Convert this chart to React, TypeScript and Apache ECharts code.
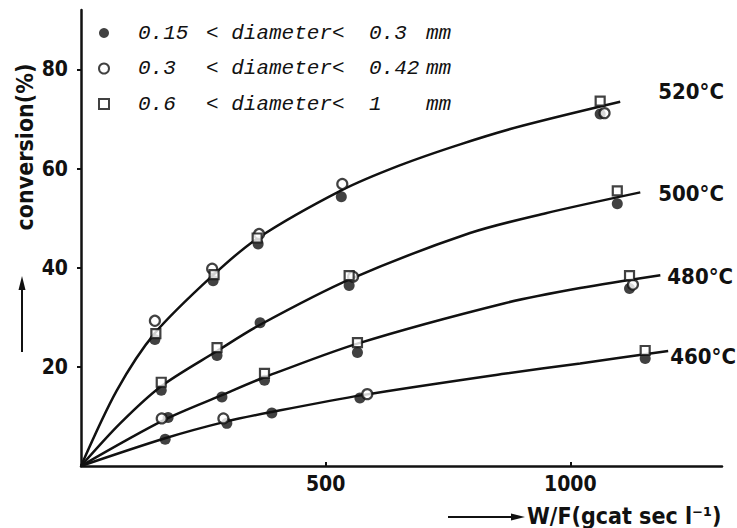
import React, { useEffect, useRef } from "react";
import * as echarts from "echarts";

// ---- data ----
const xTickValues = [500, 1000];
const yTickValues = [20, 40, 60, 80];

const tempLabels = ["520°C", "500°C", "480°C", "460°C"];

// fitted curves
const curve520 = [[0, 0], [73, 15.2], [151, 26.8], [270, 38.5], [362, 46.0], [532, 55.6], [650, 60.6], [775, 64.9], [900, 68.6], [1102, 73.5]];
const curve500 = [[0, 0], [80, 8.6], [164, 16.1], [278, 23.2], [366, 28.5], [548, 37.6], [795, 47.0], [950, 51.0], [1143, 55.2]];
const curve480 = [[0, 0], [170, 9.3], [288, 14.3], [375, 17.9], [565, 24.7], [864, 32.8], [1020, 35.9], [1184, 38.5]];
const curve460 = [[0, 0], [172, 5.6], [298, 9.0], [390, 10.9], [575, 14.3], [864, 18.6], [1020, 20.7], [1200, 23.2]];

// measured points per particle size
const filledPts = [
  [151, 25.5], [270, 37.4], [362, 44.8], [532, 54.3], [1061, 71.0],
  [164, 15.3], [278, 22.3], [366, 28.9], [548, 36.4], [1096, 52.9],
  [178, 9.8], [288, 13.9], [375, 17.3], [565, 22.9], [1121, 35.8],
  [172, 5.4], [298, 8.6], [390, 10.7], [570, 13.7], [1153, 21.7],
];
const openPts = [
  [151, 29.3], [268, 39.8], [364, 46.8], [534, 56.9], [1070, 71.2],
  [556, 38.2],
  [165, 9.6], [1128, 36.6],
  [291, 9.6], [585, 14.5],
];
const squarePts = [
  [153, 26.7], [272, 38.6], [360, 46.0], [1061, 73.6],
  [164, 16.9], [278, 23.9], [548, 38.4], [1096, 55.5],
  [375, 18.7], [565, 24.9], [1121, 38.4],
  [1153, 23.3],
];

const sizeLow = ["0.15", "0.3", "0.6"];
const sizeHigh = ["0.3", "0.42", "1"];
const sizeNames = sizeLow.map((lo, i) => `${lo} < diameter< ${sizeHigh[i]} mm`);

const SANS = '"DejaVu Sans Condensed", "Liberation Sans Narrow", "DejaVu Sans", sans-serif';
const MONO = '"Liberation Mono", "DejaVu Sans Mono", monospace';
const INK = "#111";

export default function App() {
  const ref = useRef<HTMLDivElement>(null);

  useEffect(() => {
    if (!ref.current) return;
    const chart = echarts.init(ref.current, undefined, { renderer: "svg" });

    const curves = [curve520, curve500, curve480, curve460];
    const labelOffsets = [[38, -10], [18, 1], [7, 1], [2, 5]];

    const lineSeries = curves.map((c, i) => ({
      type: "line",
      name: tempLabels[i],
      data: c,
      smooth: 0.3,
      showSymbol: false,
      symbol: "none",
      silent: true,
      z: 2,
      lineStyle: { color: INK, width: 2.5 },
      endLabel: {
        show: true,
        formatter: tempLabels[i],
        color: INK,
        fontFamily: SANS,
        fontWeight: "bold",
        fontSize: 22,
        distance: 0,
        offset: labelOffsets[i],
      },
    }));

    const scatterSeries = [
      {
        type: "scatter",
        name: sizeNames[0],
        data: filledPts,
        symbol: "circle",
        symbolSize: 11,
        z: 4,
        itemStyle: { color: INK },
      },
      {
        type: "scatter",
        name: sizeNames[1],
        data: openPts,
        symbol: "circle",
        symbolSize: 10,
        z: 5,
        itemStyle: { color: "#fff", borderColor: INK, borderWidth: 2.2 },
      },
      {
        type: "scatter",
        name: sizeNames[2],
        data: squarePts,
        symbol: "rect",
        symbolSize: 9,
        z: 5,
        itemStyle: { color: "#fff", borderColor: INK, borderWidth: 2.2 },
      },
    ];

    const legendRich = {
      p: { width: 24, fontFamily: MONO, fontSize: 21 },
      a: { width: 68, fontFamily: MONO, fontStyle: "italic", fontSize: 21, color: INK },
      b: { width: 163, fontFamily: MONO, fontStyle: "italic", fontSize: 21, color: INK },
      c: { width: 57, fontFamily: MONO, fontStyle: "italic", fontSize: 21, color: INK },
      d: { fontFamily: MONO, fontStyle: "italic", fontSize: 21, color: INK },
    };

    chart.setOption({
      animation: false,
      backgroundColor: "#fff",
      grid: { left: 81, right: 15, top: 10, bottom: 62 },
      legend: {
        orient: "vertical",
        left: 98,
        top: 22,
        padding: 0,
        itemWidth: 10,
        itemHeight: 10,
        itemGap: 13.5,
        data: sizeNames,
        selectedMode: false,
        formatter: (name: string) => {
          const i = sizeNames.indexOf(name);
          return `{p| }{a|${sizeLow[i]}}{b|< diameter<}{c|${sizeHigh[i]}}{d|mm}`;
        },
        textStyle: {
          fontFamily: MONO,
          fontStyle: "italic",
          fontSize: 21,
          lineHeight: 22,
          color: INK,
          rich: legendRich,
        },
      },
      xAxis: {
        type: "value",
        min: 0,
        max: 1310,
        splitLine: { show: false },
        axisLine: { show: true, lineStyle: { color: INK, width: 2.5 } },
        axisTick: { show: true, inside: true, length: 4, lineStyle: { color: INK, width: 2 }, customValues: xTickValues },
        axisLabel: {
          customValues: xTickValues,
          formatter: (v: number) => String(v),
          margin: 7,
          color: INK,
          fontFamily: SANS,
          fontWeight: "bold",
          fontSize: 21,
        },
      },
      yAxis: {
        type: "value",
        min: 0,
        max: 92,
        splitLine: { show: false },
        axisLine: { show: true, lineStyle: { color: INK, width: 2.5 } },
        axisTick: { show: true, inside: false, length: 4, lineStyle: { color: INK, width: 2 }, customValues: yTickValues },
        axisLabel: {
          customValues: yTickValues,
          formatter: (v: number) => String(v),
          margin: 13,
          color: INK,
          fontFamily: SANS,
          fontWeight: "bold",
          fontSize: 21,
        },
      },
      graphic: [
        {
          type: "text",
          x: 25,
          y: 147,
          rotation: Math.PI / 2,
          style: {
            text: "conversion(%)",
            fill: INK,
            font: `bold 23px ${SANS}`,
            align: "center",
            verticalAlign: "middle",
          },
        },
        { type: "line", shape: { x1: 22, y1: 352, x2: 22, y2: 286 }, style: { stroke: INK, lineWidth: 2 } },
        { type: "polygon", shape: { points: [[22, 276], [18.5, 290], [25.5, 290]] }, style: { fill: INK } },
        { type: "line", shape: { x1: 448, y1: 517, x2: 514, y2: 517 }, style: { stroke: INK, lineWidth: 2 } },
        { type: "polygon", shape: { points: [[525, 517], [511, 513.5], [511, 520.5]] }, style: { fill: INK } },
        {
          type: "text",
          x: 527,
          y: 516,
          style: {
            text: "W/F(gcat sec l⁻¹)",
            fill: INK,
            font: `bold 23px ${SANS}`,
            align: "left",
            verticalAlign: "middle",
          },
        },
      ],
      series: [...lineSeries, ...scatterSeries],
    });

    return () => chart.dispose();
  }, []);

  return (
    <div
      ref={ref}
      style={{ position: "fixed", left: 0, top: 0, width: 737, height: 528, background: "#fff" }}
    />
  );
}
